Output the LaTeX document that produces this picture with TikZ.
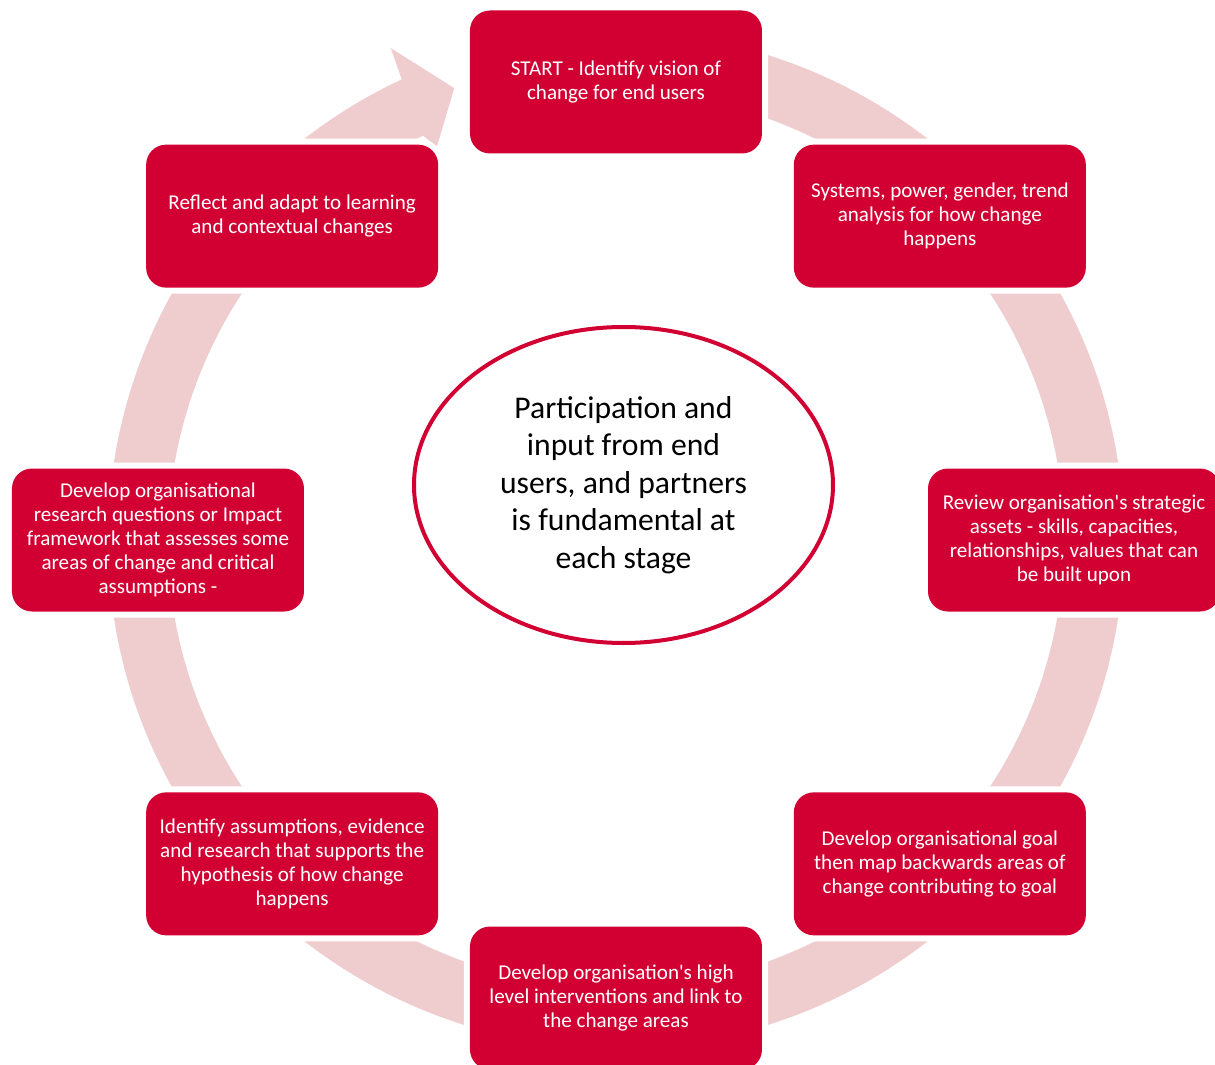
\documentclass[tikz,border=0pt]{standalone}
\usepackage{fontspec}
\setmainfont{Carlito}
\usetikzlibrary{shapes.geometric}
\definecolor{boxred}{RGB}{210,0,50}
\definecolor{ringpink}{RGB}{239,204,206}
\begin{document}
\begin{tikzpicture}[
  stage/.style={fill=boxred, text=white, rounded corners=0.4cm, align=center, minimum width=5.84cm, minimum height=2.86cm, inner sep=2pt, font=\fontsize{12}{13.6}\selectfont, preaction={draw=white, line width=0.24cm}},
  hub/.style={ellipse, draw=boxred, line width=0.08cm, fill=white, align=center, minimum width=8.38cm, minimum height=6.32cm, inner sep=0pt, font=\fontsize{18}{21.4}\selectfont}
]
\useasboundingbox (-12.32,-10.5) rectangle (11.98,10.8);
% circular band with arrowhead
\fill[ringpink] (95:10.16) arc[start angle=95, end angle=-245.05, radius=10.16]
  -- (-245.4:10.82) -- (-250.3:9.6) -- (-245.5:8.64) -- (-244.5:8.96)
  arc[start angle=-244.5, end angle=95, radius=8.96] -- cycle;
\node[stage] (s1) at (90:9.16) {START - Identify vision of\\change for end users};
\node[stage] (s2) at (45:9.16) {Systems, power, gender, trend\\analysis for how change\\happens};
\node[stage] (s3) at (0:9.16) {Review organisation\textquotesingle s strategic\\assets - skills, capacities,\\relationships, values that can\\be built upon};
\node[stage] (s4) at (-45:9.16) {Develop organisational goal\\then map backwards areas of\\change contributing to goal};
\node[stage] (s5) at (-90:9.16) {Develop organisation\textquotesingle s high\\level interventions and link to\\the change areas};
\node[stage] (s6) at (-135:9.16) {Identify assumptions, evidence\\and research that supports the\\hypothesis of how change\\happens};
\node[stage] (s7) at (180:9.16) {Develop organisational\\research questions or Impact\\framework that assesses some\\areas of change and critical\\assumptions -};
\node[stage] (s8) at (135:9.16) {Reflect and adapt to learning\\and contextual changes};
\node[hub] (hub) at (0.15,1.1) {Participation and\\input from end\\users, and partners\\is fundamental at\\each stage};
\end{tikzpicture}
\end{document}
